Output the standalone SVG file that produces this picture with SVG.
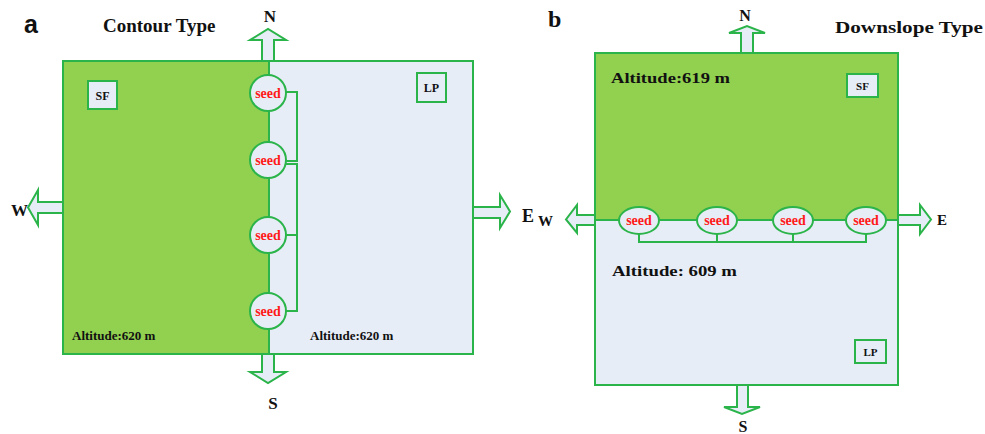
<svg xmlns="http://www.w3.org/2000/svg" width="985" height="434" viewBox="0 0 985 434">
<style>
.g{fill:#92d050;stroke:none}
.l{fill:#e7edf7;stroke:none}
.frame{fill:none;stroke:#2bb44a;stroke-width:2}
.ln{fill:none;stroke:#2bb44a;stroke-width:2}
.arr{fill:#e7edf7;stroke:#2bb44a;stroke-width:2;stroke-linejoin:miter}
.box{fill:#e7edf7;stroke:#2bb44a;stroke-width:2}
.seed{fill:#e7edf7;stroke:#2bb44a;stroke-width:2}
.st{font-family:"Liberation Serif","Times New Roman",serif;font-weight:bold;font-size:14px;fill:#ff1a1a;text-anchor:middle}
.t{font-family:"Liberation Serif","Times New Roman",serif;font-weight:bold;fill:#111}
.c{text-anchor:middle}
</style>
<rect width="985" height="434" fill="#ffffff"/>

<g id="panel-a">
<rect class="g" x="63" y="61" width="206" height="293"/>
<rect class="l" x="269" y="61" width="204" height="293"/>
<rect class="frame" x="63" y="61" width="410" height="293"/>
<text class="t" x="24" y="33" style="font-family:'Liberation Sans',Arial,sans-serif;font-size:25px">a</text>
<text class="t" x="103" y="32" font-size="19">Contour Type</text>
<text class="t" x="72" y="340" font-size="13">Altitude:620 m</text>
<text class="t" x="310" y="340" font-size="13">Altitude:620 m</text>
</g>

<g id="panel-b">
<rect class="g" x="595" y="53" width="303" height="167"/>
<rect class="l" x="595" y="220" width="303" height="165"/>
<rect class="frame" x="595" y="53" width="303" height="332"/>
<text class="t" x="548" y="27" font-size="24">b</text>
<text class="t" x="835" y="33" font-size="16" textLength="148" lengthAdjust="spacingAndGlyphs">Downslope Type</text>
<text class="t" x="611" y="83" font-size="15" textLength="119" lengthAdjust="spacingAndGlyphs">Altitude:619 m</text>
<text class="t" x="612" y="276" font-size="15" textLength="125" lengthAdjust="spacingAndGlyphs">Altitude: 609 m</text>
</g>

<g id="connectors">
<line class="ln" x1="269" y1="61" x2="269" y2="354"/>
<polyline class="ln" points="286,92 297,92 297,161 286,161"/>
<polyline class="ln" points="286,164 297,164 297,311 286,311"/>
<line class="ln" x1="286" y1="235" x2="297" y2="235"/>
<line class="ln" x1="595" y1="220" x2="898" y2="220"/>
<polyline class="ln" points="639,234 639,242 866,242 866,234"/>
<line class="ln" x1="717" y1="234" x2="717" y2="242"/>
<line class="ln" x1="793" y1="234" x2="793" y2="242"/>
</g>

<g id="arrows-a">
<polygon class="arr" points="262,61 262,40 250,40 268,29 286,40 274,40 274,61"/>
<polygon class="arr" points="262,354 262,372 250,372 268,383 286,372 274,372 274,354"/>
<polygon class="arr" points="63,202 38,202 38,190 28,207.5 38,225 38,213 63,213"/>
<polygon class="arr" points="473,207 500,207 500,195 510,211.5 500,228 500,218 473,218"/>
<text class="t c" x="270" y="22" font-size="17">N</text>
<text class="t c" x="273" y="409" font-size="17">S</text>
<text class="t" x="11" y="216" font-size="17">W</text>
<text class="t" x="522" y="222" font-size="18">E</text>
</g>

<g id="arrows-b">
<polygon class="arr" points="741,53 741,33 729,33 747,26 765,33 753,33 753,53"/>
<polygon class="arr" points="737,385 737,407 724,407 742,414 760,407 748,407 748,385"/>
<polygon class="arr" points="595,215 577,215 577,205 566,219.5 577,233 577,225 595,225"/>
<polygon class="arr" points="898,215 920,215 920,205 931,219.5 920,234 920,225 898,225"/>
<text class="t c" x="745" y="21" font-size="16">N</text>
<text class="t c" x="743" y="432" font-size="16">S</text>
<text class="t" x="538" y="226" font-size="15">W</text>
<text class="t" x="937" y="225" font-size="15">E</text>
</g>

<g id="sf-a"><rect class="box" x="88" y="81" width="29" height="28"/><text class="t c" x="102.5" y="100" font-size="12">SF</text></g>
<g id="lp-a"><rect class="box" x="417" y="73" width="29" height="29"/><text class="t c" x="431.5" y="92" font-size="12">LP</text></g>
<g id="sf-b"><rect class="box" x="847" y="74" width="31" height="23"/><text class="t c" x="862.5" y="90" font-size="11">SF</text></g>
<g id="lp-b"><rect class="box" x="855" y="340" width="31" height="23"/><text class="t c" x="870.5" y="356" font-size="11">LP</text></g>

<g id="seed-a1"><circle class="seed" cx="268" cy="93" r="18"/><text class="st" x="268" y="98">seed</text></g>
<g id="seed-a2"><circle class="seed" cx="268" cy="160" r="18"/><text class="st" x="268" y="165">seed</text></g>
<g id="seed-a3"><circle class="seed" cx="268" cy="235" r="18"/><text class="st" x="268" y="240">seed</text></g>
<g id="seed-a4"><circle class="seed" cx="268" cy="311" r="18"/><text class="st" x="268" y="316">seed</text></g>

<g id="seed-b1"><ellipse class="seed" cx="639" cy="220.5" rx="20" ry="13.5"/><text class="st" x="639" y="225">seed</text></g>
<g id="seed-b2"><ellipse class="seed" cx="717" cy="220.5" rx="20" ry="13.5"/><text class="st" x="717" y="225">seed</text></g>
<g id="seed-b3"><ellipse class="seed" cx="793" cy="220.5" rx="20" ry="13.5"/><text class="st" x="793" y="225">seed</text></g>
<g id="seed-b4"><ellipse class="seed" cx="866" cy="220.5" rx="20" ry="13.5"/><text class="st" x="866" y="225">seed</text></g>
</svg>
